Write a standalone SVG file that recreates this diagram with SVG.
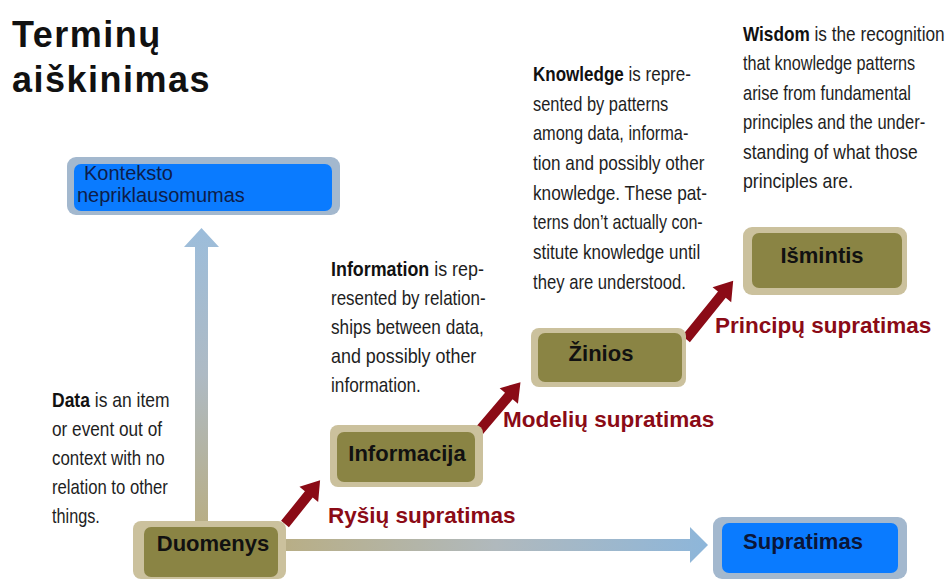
<svg xmlns="http://www.w3.org/2000/svg" width="950" height="579" viewBox="0 0 950 579">
<style>
  .title { font-family: "Liberation Sans", Arial, sans-serif; font-weight: bold; font-size: 36px; letter-spacing: 1.5px; fill: #111; }
  .olive-outer { fill: #cbc19d; }
  .olive-inner { fill: #8a8444; }
  .blue-outer { fill: #a3b8ce; }
  .blue-inner { fill: #0a7bff; }
  .nodetxt { font-family: "Liberation Sans", Arial, sans-serif; font-weight: bold; font-size: 22px; fill: #111; text-anchor: middle; }
  .bluetxt { font-family: "Liberation Sans", Arial, sans-serif; font-size: 20px; fill: #0d1d4a; }
  .red { fill: #8b0b16; }
  .redtxt { font-family: "Liberation Sans", Arial, sans-serif; font-weight: bold; font-size: 22.5px; fill: #8b0b16; }
  .note { font-family: "Liberation Sans", Arial, sans-serif; font-size: 20px; fill: #1e1e1e; }
  .note .b { font-weight: bold; fill: #111; }
</style>
<defs>
  <linearGradient id="gv" gradientUnits="userSpaceOnUse" x1="0" y1="228" x2="0" y2="522">
    <stop offset="0" stop-color="#9cbddb"/>
    <stop offset="0.5" stop-color="#aebac4"/>
    <stop offset="1" stop-color="#b8ae86"/>
  </linearGradient>
  <linearGradient id="gh" gradientUnits="userSpaceOnUse" x1="285" y1="0" x2="708" y2="0">
    <stop offset="0" stop-color="#b8ae86"/>
    <stop offset="0.5" stop-color="#b0b9bd"/>
    <stop offset="1" stop-color="#8db6da"/>
  </linearGradient>
</defs>
<rect width="950" height="579" fill="#ffffff"/>

<g id="title">
  <text class="title" x="12" y="47">Terminų</text>
  <text class="title" x="12" y="92">aiškinimas</text>
</g>

<g id="connectors">
  <path fill="url(#gv)" d="M195,522 L195,247 L184,247 L201.5,228 L219,247 L208,247 L208,522 Z"/>
  <path fill="url(#gh)" d="M285,539 L690,539 L690,527 L708,545 L690,563 L690,551 L285,551 Z"/>
  <path class="red" transform="translate(285,524) rotate(-51.2)" d="M0,-5 L38,-5 L38,-12 L56,0 L38,12 L38,5 L0,5 Z"/>
  <path class="red" transform="translate(479,431) rotate(-49.6)" d="M0,-5 L46,-5 L46,-12 L64,0 L46,12 L46,5 L0,5 Z"/>
  <path class="red" transform="translate(686,339) rotate(-51)" d="M0,-5 L57,-5 L57,-12 L75,0 L57,12 L57,5 L0,5 Z"/>
</g>

<g id="labels">
  <text class="redtxt" x="328" y="523">Ryšių supratimas</text>
  <text class="redtxt" x="503" y="427">Modelių supratimas</text>
  <text class="redtxt" x="715" y="333">Principų supratimas</text>
</g>

<g id="node-konteksto">
  <rect class="blue-outer" x="67" y="157" width="273" height="58" rx="9"/>
  <rect class="blue-inner" x="74" y="164" width="258" height="47" rx="7"/>
  <text class="bluetxt" x="84" y="180">Konteksto</text>
  <text class="bluetxt" x="77" y="202">nepriklausomumas</text>
</g>

<g id="node-duomenys">
  <rect class="olive-outer" x="133" y="521" width="153" height="58" rx="8"/>
  <rect class="olive-inner" x="144" y="527" width="134" height="50" rx="7"/>
  <text class="nodetxt" x="213" y="551">Duomenys</text>
</g>

<g id="node-informacija">
  <rect class="olive-outer" x="330" y="425" width="153" height="62" rx="8"/>
  <rect class="olive-inner" x="337" y="432" width="138" height="50" rx="7"/>
  <text class="nodetxt" x="407" y="461">Informacija</text>
</g>

<g id="node-zinios">
  <rect class="olive-outer" x="531" y="328" width="155" height="59" rx="8"/>
  <rect class="olive-inner" x="538" y="333" width="144" height="49" rx="7"/>
  <text class="nodetxt" x="601" y="361">Žinios</text>
</g>

<g id="node-ismintis">
  <rect class="olive-outer" x="743" y="227" width="164" height="68" rx="9"/>
  <rect class="olive-inner" x="752" y="233" width="150" height="55" rx="7"/>
  <text class="nodetxt" x="822" y="263">Išmintis</text>
</g>

<g id="node-supratimas">
  <rect class="blue-outer" x="713" y="517" width="194" height="62" rx="9"/>
  <rect class="blue-inner" x="722" y="523" width="176" height="50" rx="7"/>
  <text class="nodetxt" x="803" y="549" style="fill:#0b1638">Supratimas</text>
</g>

<g id="notes">
  <g id="note-data" class="note" transform="translate(52,0) scale(0.84,1)">
    <text x="0" y="407" textLength="140" lengthAdjust="spacingAndGlyphs"><tspan class="b">Data</tspan> is an item</text>
    <text x="0" y="436" textLength="131" lengthAdjust="spacingAndGlyphs">or event out of</text>
    <text x="0" y="465" textLength="134" lengthAdjust="spacingAndGlyphs">context with no</text>
    <text x="0" y="494" textLength="138" lengthAdjust="spacingAndGlyphs">relation to other</text>
    <text x="0" y="523" textLength="57" lengthAdjust="spacingAndGlyphs">things.</text>
  </g>
  <g id="note-information" class="note" transform="translate(331,0) scale(0.84,1)">
    <text x="0" y="276" textLength="182" lengthAdjust="spacingAndGlyphs"><tspan class="b">Information</tspan> is rep-</text>
    <text x="0" y="305" textLength="184" lengthAdjust="spacingAndGlyphs">resented by relation-</text>
    <text x="0" y="334" textLength="182" lengthAdjust="spacingAndGlyphs">ships between data,</text>
    <text x="0" y="363" textLength="173" lengthAdjust="spacingAndGlyphs">and possibly other</text>
    <text x="0" y="392" textLength="107" lengthAdjust="spacingAndGlyphs">information.</text>
  </g>
  <g id="note-knowledge" class="note" transform="translate(533,0) scale(0.84,1)">
    <text x="0" y="81" textLength="188" lengthAdjust="spacingAndGlyphs"><tspan class="b">Knowledge</tspan> is repre-</text>
    <text x="0" y="110.7" textLength="161" lengthAdjust="spacingAndGlyphs">sented by patterns</text>
    <text x="0" y="140.4" textLength="185" lengthAdjust="spacingAndGlyphs">among data, informa-</text>
    <text x="0" y="170" textLength="204" lengthAdjust="spacingAndGlyphs">tion and possibly other</text>
    <text x="0" y="199.8" textLength="207" lengthAdjust="spacingAndGlyphs">knowledge. These pat-</text>
    <text x="0" y="229.5" textLength="202" lengthAdjust="spacingAndGlyphs">terns don’t actually con-</text>
    <text x="0" y="259" textLength="199" lengthAdjust="spacingAndGlyphs">stitute knowledge until</text>
    <text x="0" y="289" textLength="182" lengthAdjust="spacingAndGlyphs">they are understood.</text>
  </g>
  <g id="note-wisdom" class="note" transform="translate(743,0) scale(0.84,1)">
    <text x="0" y="41" textLength="240" lengthAdjust="spacingAndGlyphs"><tspan class="b">Wisdom</tspan> is the recognition</text>
    <text x="0" y="70.5" textLength="205" lengthAdjust="spacingAndGlyphs">that knowledge patterns</text>
    <text x="0" y="100" textLength="200" lengthAdjust="spacingAndGlyphs">arise from fundamental</text>
    <text x="0" y="129.5" textLength="217" lengthAdjust="spacingAndGlyphs">principles and the under-</text>
    <text x="0" y="159" textLength="208" lengthAdjust="spacingAndGlyphs">standing of what those</text>
    <text x="0" y="188.5" textLength="131" lengthAdjust="spacingAndGlyphs">principles are.</text>
  </g>
</g>
</svg>
